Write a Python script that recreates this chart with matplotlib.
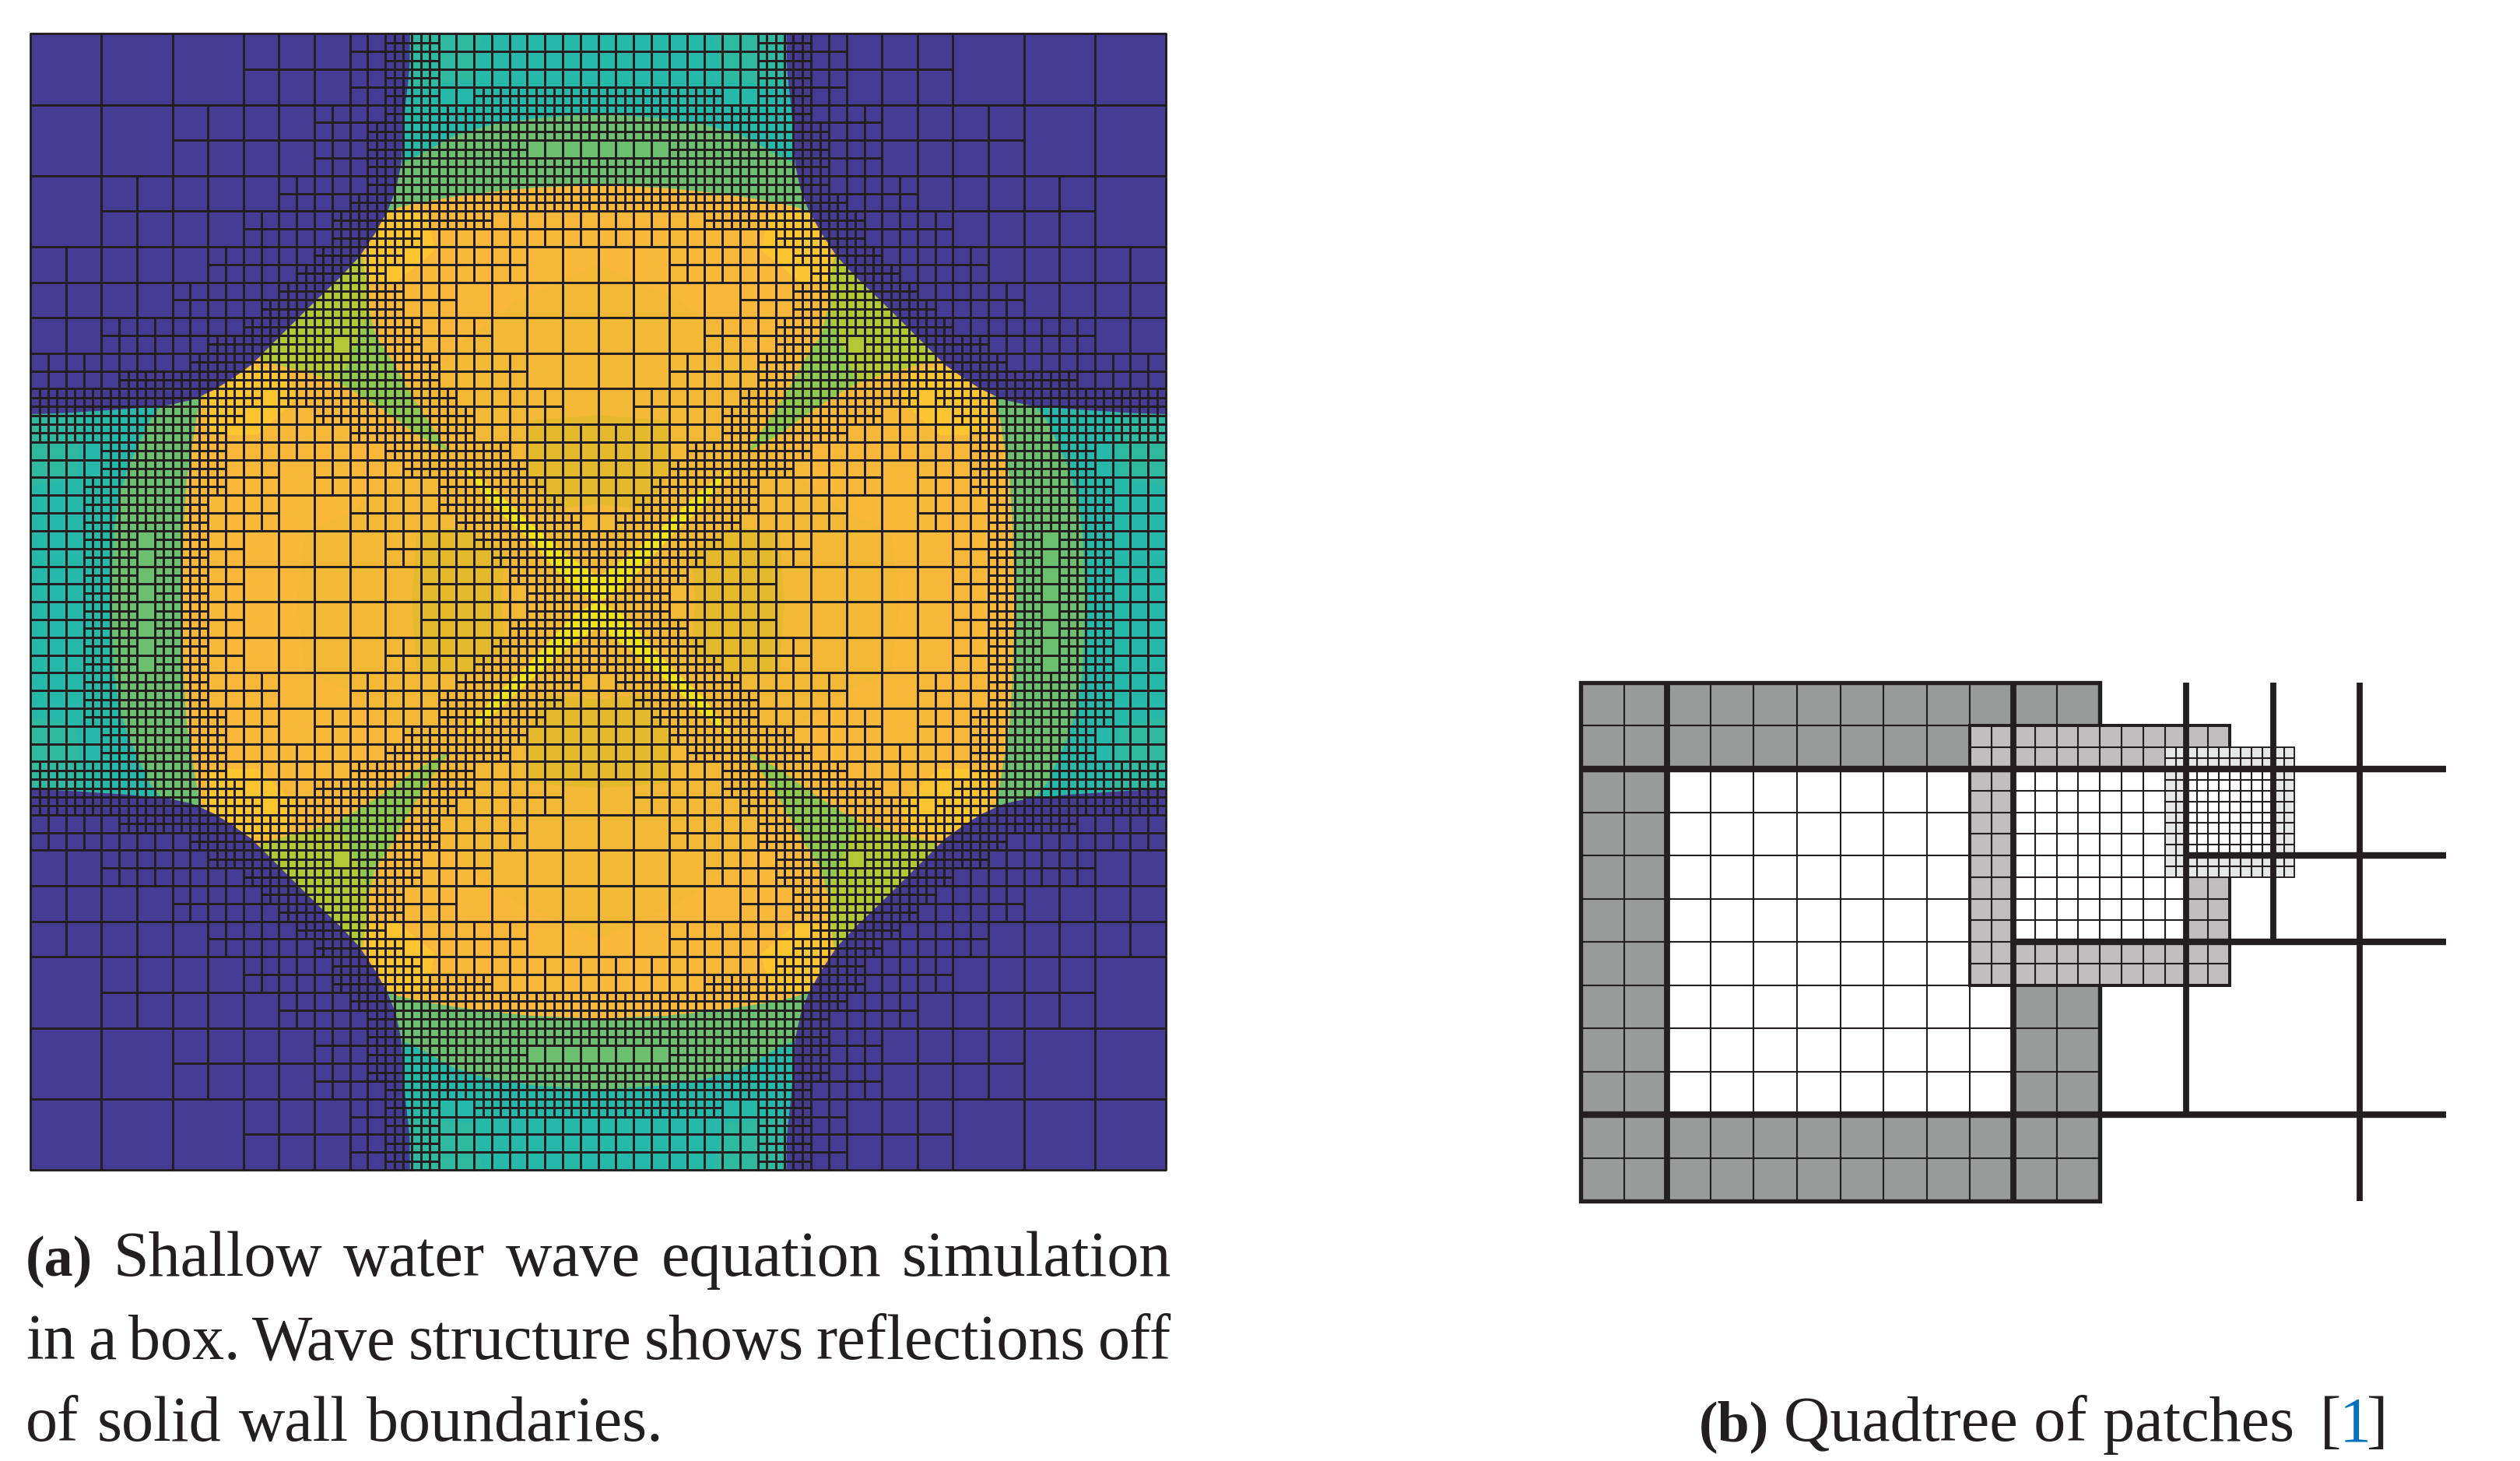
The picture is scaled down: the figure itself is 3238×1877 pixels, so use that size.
import matplotlib
matplotlib.use("Agg")
import matplotlib.pyplot as plt
from matplotlib.collections import PolyCollection
from matplotlib.patches import Polygon, Rectangle

W, H, DPI = 3238, 1877, 100
INK = "#231f20"
FONT = "Liberation Serif"
LINK = "#0072bc"

# ---- panel (a): refinement level per 1/64 cell, top-left quadrant (mirrored to the others)
LEVEL_ROWS = [
    "0*12 1*6 2*2 3*3 2*9", "0*12 1*6 2*2 3*3 2*9", "0*12 1*6 2*2 3*3 2*9",
    "0*12 1*6 2*2 3*3 2*2 3*7", "0*8 1*8 2*4 3*12", "0*8 1*8 2*3 3*13",
    "0*8 1*8 2*3 3*9 2*4", "0*8 1*8 2*3 3*13", "0*4 1*10 2*5 3*13",
    "0*4 1*10 2*4 3*14", "0*4 1*8 2*5 3*9 2*6", "0*4 1*8 2*5 3*5 2*10",
    "1*10 2*6 3*5 2*7 1*4", "1*10 2*5 3*5 2*8 1*4", "1*8 2*6 3*7 2*3 1*8",
    "1*8 2*5 3*8 2*3 1*8", "1*4 2*8 3*10 2*4 1*6", "1*4 2*6 3*7 2*1 3*4 2*4 1*6",
    "2*9 3*14 2*5 1*4", "2*5 3*18 2*5 1*4", "3*13 2*1 3*10 2*6 1*2",
    "3*12 2*4 3*9 2*5 1*2", "3*11 2*7 3*7 2*7", "2*4 3*7 2*9 3*7 2*5",
    "2*4 3*7 2*3 1*2 2*5 3*7 2*4", "2*3 3*8 2*3 1*2 2*7 3*6 2*3",
    "2*3 3*7 2*4 1*4 2*5 3*7 2*2", "2*3 3*7 2*4 1*4 2*6 3*7 2*1",
    "2*3 3*3 2*1 3*3 2*2 1*8 2*5 3*7", "2*3 3*3 2*1 3*3 2*2 1*8 2*6 3*6",
    "2*3 3*3 2*1 3*3 2*2 1*10 2*5 3*5", "2*3 3*3 2*1 3*3 2*2 1*10 2*6 3*4",
]

# wave-field region outlines, top-left quadrant
BLUE_ARC = [(21.39, 0), (21.37, 1.77), (21.29, 2.65), (21.14, 3.96), (21.0, 5.7), (20.88, 7.45),
            (20.59, 8.77), (20.15, 9.93), (19.42, 11.24), (18.55, 12.55), (17.53, 13.65),
            (16.22, 14.9), (15.06, 16.04), (14.2, 16.9), (13.46, 17.64), (12.44, 18.66),
            (11.42, 19.39), (10.4, 20.04), (9.1, 20.63), (7.77, 20.92), (5.44, 21.14),
            (3.26, 21.28), (2.09, 21.36), (0, 21.43), (0, 0)]
TEAL_TOP = [(20, 0), (32, 0), (32, 4.5), (28.46, 4.76), (25.98, 5.12), (23.94, 5.71),
            (22.63, 6.43), (21.6, 7.0), (20.0, 7.6)]
GREEN_TOP = [(19.5, 0), (32, 0), (32, 8.52), (28.16, 8.69), (25.98, 8.91), (23.79, 9.2),
             (22.04, 9.5), (20.73, 9.79), (19.5, 10.4)]
TEAL_LEFT = [(0, 20), (7.34, 20), (7.34, 21), (6.75, 21.7), (6.0, 23.3), (5.44, 24.6),
             (5.0, 26.1), (4.7, 28), (4.6, 30.2), (4.55, 32), (0, 32)]
GREEN_LEFT = [(0, 19.5), (10.4, 19.5), (9.52, 20.7), (9.3, 22), (9.1, 23.3), (8.8, 25.1),
              (8.65, 27.5), (8.57, 30.2), (8.55, 32), (0, 32)]
SOFT_TEAL_TOP = [(21, 0), (25.5, 0), (25, 2.6), (21, 3)]
SOFT_TEAL_LEFT = [(0, 21), (0, 25.5), (2.6, 25), (3, 21)]
OLIVE_WEDGE = [(18.5, 11.5), (18.95, 14), (19.0, 15.6), (19.4, 16.9), (19.7, 18.4), (17.9, 20.0),
               (16.95, 19.5), (15.26, 19.0), (13.09, 18.46), (12.0, 17.5)]
GREEN_TAIL = [(19.1, 15.6), (19.4, 16.9), (20.44, 18.5), (21.6, 20.55), (22.63, 22.16), (23.65, 23.6),
              (22.6, 23.03), (21.6, 22.45), (20.6, 21.7), (19.57, 21), (18.4, 20.26), (17.4, 19.6)]
YELLOW_BAND = [(24.4, 24.34), (26.27, 25.8), (28.3, 27.7), (30.35, 29.44), (32, 30.6), (32, 32),
               (30.64, 31.3), (29.62, 30.17), (27.87, 28.28), (25.98, 26.5)]
MID_ORANGE = [(32, 13), (27.5, 15), (24, 17.5), (20.5, 21.5), (22, 24), (18, 27), (15.5, 28), (15, 32), (32, 32)]
DEEP_BLOB_A = [(28, 21.8), (32, 21.5), (32, 26.5), (29.2, 26.8), (27.8, 24.4)]
DEEP_BLOB_B = [(21.8, 28), (24.5, 27.8), (26.8, 29.2), (26.5, 32), (21.5, 32)]
BRIGHT_TOP = [(20.2, 9.9), (22.4, 10.2), (22.8, 12.2), (20.6, 14), (18.8, 14), (18.8, 12.5)]
BRIGHT_LEFT = [(9.8, 20.4), (12.4, 18.7), (14.5, 19), (15, 20.6), (12.8, 22.6), (10, 22.6)]

REGION_COLORS = [
    (MID_ORANGE, "#f2b836"), (DEEP_BLOB_A, "#e4b92c"), (DEEP_BLOB_B, "#e4b92c"),
    (BRIGHT_TOP, "#fdc530"), (BRIGHT_LEFT, "#fdc530"),
    (GREEN_TOP, "#6bbf6e"), (GREEN_LEFT, "#6bbf6e"), (TEAL_TOP, "#26b9a9"), (TEAL_LEFT, "#26b9a9"),
    (SOFT_TEAL_TOP, "#2fba9f"), (SOFT_TEAL_LEFT, "#2fba9f"),
    (OLIVE_WEDGE, "#b2c935"), (GREEN_TAIL, "#8cc94e"), (YELLOW_BAND, "#efe41c"), (BLUE_ARC, "#453a94"),
]
BASE_COLOR = "#f9b83a"

# ---- panel (b): patches as (x0, y0, x1, y1, interior x0, y0, x1, y1, step, ghost colour, border px)
PATCHES = [
    (0, 0, 12, 12, 2, 2, 10, 10, 1.0, "#999a9a", 5.4),
    (9, 1, 15, 7, 10, 2, 14, 6, 0.5, "#c0bebf", 4.0),
    (13.5, 1.5, 16.5, 4.5, 14, 2, 16, 4, 0.25, "#e6e8e7", 1.9),
]
THICK_V = [(2, 0, 12), (10, 0, 12), (14, 0, 10), (16, 0, 6), (18, 0, 12)]
THICK_H = [(2, 0, 20), (10, 0, 20), (4, 14, 20), (6, 10, 20)]

CAPTION_A = [("(a)", "Shallow water wave equation simulation", 1639, 1505),
             ("", "in a box. Wave structure shows reflections off", 1746, 1505),
             ("", "of solid wall boundaries.", 1851, None)]
CAPTION_B = [("(b)", 2183, "bold", INK), ("Quadtree of patches", 2292, "normal", INK),
             ("[", 2981, "normal", INK), ("1", 3006, "normal", LINK), ("]", 3041, "normal", INK)]


def px(v):
    return v * 72 / DPI


def make_axes(fig, x0, y0, x1, y1):
    ax = fig.add_axes([x0 / W, 1 - y1 / H, (x1 - x0) / W, (y1 - y0) / H])
    ax.axis("off")
    return ax


def parse_rows(rows):
    out = []
    for row in rows:
        s = ""
        for tok in row.split():
            c, n = tok.split("*")
            s += c * int(n)
        assert len(s) == 32
        out.append(s)
    return out


def quadrant_cells(rows):
    cells = []
    for l, row in enumerate(rows):
        for k, c in enumerate(row):
            if c == "0" and k % 4 == 0 and l % 4 == 0:
                cells.append((k, l, 4))
            elif c == "1" and k % 2 == 0 and l % 2 == 0:
                cells.append((k, l, 2))
            elif c == "2":
                cells.append((k, l, 1))
            elif c == "3":
                for dx in (0, .5):
                    for dy in (0, .5):
                        cells.append((k + dx, l + dy, .5))
    return cells


def mirrored(points):
    for fx in (False, True):
        for fy in (False, True):
            yield [(64 - u if fx else u, 64 - v if fy else v) for u, v in points]


fig = plt.figure(figsize=(W / DPI, H / DPI), dpi=DPI, facecolor="white")

# panel (a)
ax = make_axes(fig, 39.3, 43.3, 1498, 1503)
ax.set_xlim(0, 64)
ax.set_ylim(64, 0)
ax.add_patch(Rectangle((0, 0), 64, 64, fc=BASE_COLOR, ec="none", zorder=1))
for pts, col in REGION_COLORS:
    for poly in mirrored(pts):
        ax.add_patch(Polygon(poly, closed=True, fc=col, ec="none", zorder=2))
verts = []
for k, l, s in quadrant_cells(parse_rows(LEVEL_ROWS)):
    square = [(k, l), (k + s, l), (k + s, l + s), (k, l + s)]
    verts.extend(mirrored(square))
ax.add_collection(PolyCollection(verts, facecolors="none", edgecolors=INK,
                                 linewidths=px(2.9), zorder=3, clip_on=False))

# panel (b)
bx = make_axes(fig, 2031, 877, 3143, 1543)
bx.set_xlim(0, 20)
bx.set_ylim(12, 0)
z = 2
for x0, y0, x1, y1, ix0, iy0, ix1, iy1, step, col, border in PATCHES:
    bx.add_patch(Rectangle((x0, y0), x1 - x0, y1 - y0, fc=col, ec="none", zorder=z))
    bx.add_patch(Rectangle((ix0, iy0), ix1 - ix0, iy1 - iy0, fc="white", ec="none", zorder=z))
    nx = int(round((x1 - x0) / step))
    ny = int(round((y1 - y0) / step))
    for n in range(1, nx):
        bx.plot([x0 + n * step] * 2, [y0, y1], color=INK, lw=px(2.1), zorder=z + .1,
                solid_capstyle="butt", clip_on=False)
    for n in range(1, ny):
        bx.plot([x0, x1], [y0 + n * step] * 2, color=INK, lw=px(2.1), zorder=z + .1,
                solid_capstyle="butt", clip_on=False)
    bx.add_patch(Rectangle((x0, y0), x1 - x0, y1 - y0, fc="none", ec=INK, lw=px(border),
                           zorder=z + .2, clip_on=False, joinstyle="miter"))
    z += 1
for x, a, b in THICK_V:
    bx.plot([x, x], [a, b], color=INK, lw=px(7.8), solid_capstyle="butt", zorder=10, clip_on=False)
for y, a, b in THICK_H:
    bx.plot([a, b], [y, y], color=INK, lw=px(8.4), solid_capstyle="butt", zorder=10, clip_on=False)

# captions
SIZE = px(82)
BOLD_SIZE = px(74)
canvas = fig.canvas
renderer = canvas.get_renderer()


def put(x, base, s, weight="normal", color=INK):
    t = fig.text(x / W, 1 - base / H, s, family=[FONT, "DejaVu Serif"],
                 fontsize=BOLD_SIZE if weight == "bold" else SIZE,
                 weight=weight, color=color, ha="left", va="baseline")
    return t, t.get_window_extent(renderer).width


def put_line(x, base, bold, body, right):
    words = body.split()
    tmp = []
    widths = []
    if bold:
        t, w = put(x, base, bold, "bold")
        x += w
        gapwords = len(words)
    else:
        gapwords = len(words) - 1
    for wd in words:
        t, w = put(0, base, wd)
        t.set_visible(False)
        tmp.append(t)
        widths.append(w)
    gap = SIZE * 100 / 72 * 0.28
    if right is not None:
        gap = (right - x - sum(widths)) / max(gapwords, 1)
    if bold:
        x += gap
    for i in range(len(words)):
        tmp[i].set_x(x / W)
        tmp[i].set_visible(True)
        x += widths[i] + gap


for bold, body, base, right in CAPTION_A:
    put_line(33, base, bold, body, right)

for s, x, weight, color in CAPTION_B:
    put(x, 1851, s, weight, color)

fig.savefig("out.png", dpi=DPI, facecolor="white")
